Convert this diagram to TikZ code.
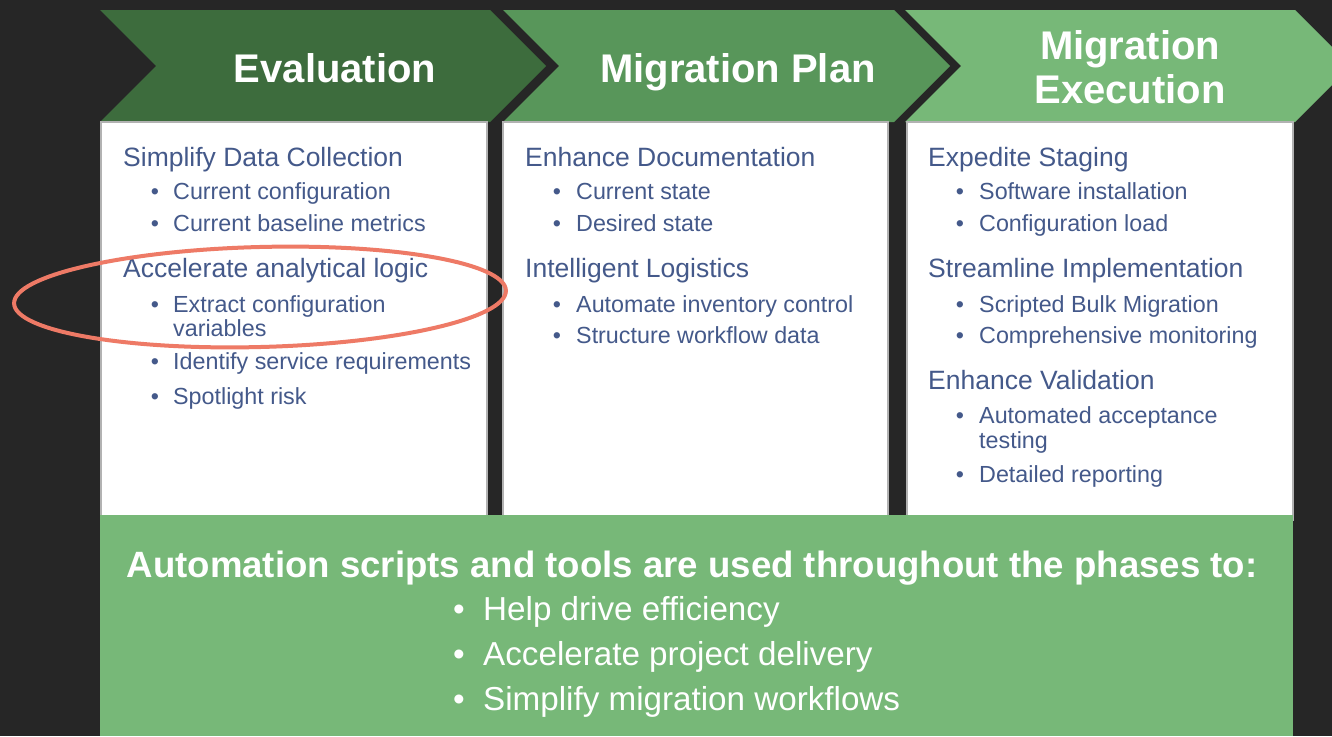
\documentclass[tikz,border=0pt]{standalone}
\usepackage{fontspec}
\setmainfont{Liberation Sans}
\definecolor{bgdark}{HTML}{262626}
\definecolor{gdark}{HTML}{3D6C3D}
\definecolor{gmid}{HTML}{58965A}
\definecolor{glight}{HTML}{77B878}
\definecolor{txtblue}{HTML}{44598A}
\definecolor{ringred}{HTML}{EE7A66}
\begin{document}
\begin{tikzpicture}[x=1pt,y=-1pt,
  phase/.style={font=\bfseries\fontsize{40}{44}\selectfont, text=white, inner sep=0, align=center},
  panel/.style={fill=white, draw=black!30, line width=1.2pt},
  head/.style={anchor=base west, inner sep=0, text=txtblue, font=\fontsize{26.5}{30}\selectfont},
  item/.style={anchor=base west, inner sep=0, text=txtblue, font=\fontsize{23.3}{26}\selectfont},
  dotmark/.style={anchor=base, inner sep=0, text=txtblue, font=\fontsize{23.3}{26}\selectfont},
  summary/.style={anchor=base, inner sep=0, text=white, font=\bfseries\fontsize{36.6}{40}\selectfont},
  sumitem/.style={anchor=base west, inner sep=0, text=white, font=\fontsize{33.2}{36}\selectfont},
  sumdot/.style={anchor=base, inner sep=0, text=white, font=\fontsize{33.2}{36}\selectfont}]
\useasboundingbox (0,0) rectangle (1332,736);
\fill[bgdark] (0,0) rectangle (1332,736);

% phase chevrons
\begin{scope}
\clip (0,0) rectangle (1332,736);
\fill[gdark]  (100,10) -- (490,10) -- (546,66) -- (490,122) -- (100,122) -- (156,66) -- cycle;
\fill[gmid]   (503,10) -- (894,10) -- (950,66) -- (894,122) -- (503,122) -- (559,66) -- cycle;
\fill[glight] (905,10) -- (1295,10) -- (1351,66) -- (1295,122) -- (905,122) -- (961,66) -- cycle;
\end{scope}
\node[phase, anchor=base] (ev) at (335,82) {Evaluation};
\node[phase, anchor=base] (mp) at (738,82) {Migration Plan};
\node[phase] (me) at (1130,67) {Migration\\Execution};

% white panels
\draw[panel] (101,122) rectangle (487,520);
\draw[panel] (503,122) rectangle (888,520);
\draw[panel] (907,122) rectangle (1293,520);

% column 1
\node[head] (c1h1) at (123,166) {Simplify Data Collection};
\node[dotmark] (c1d1) at (155,199) {•}; \node[item] (c1i1) at (173,199) {Current configuration};
\node[dotmark] (c1d2) at (155,231) {•}; \node[item] (c1i2) at (173,231) {Current baseline metrics};
\node[head] (c1h2) at (123,277) {Accelerate analytical logic};
\node[dotmark] (c1d3) at (155,312) {•}; \node[item] (c1i3) at (173,312) {Extract configuration};
\node[item] (c1i3b) at (173,336) {variables};
\node[dotmark] (c1d4) at (155,369) {•}; \node[item] (c1i4) at (173,369) {Identify service requirements};
\node[dotmark] (c1d5) at (155,404) {•}; \node[item] (c1i5) at (173,404) {Spotlight risk};

% column 2
\node[head] (c2h1) at (525,166) {Enhance Documentation};
\node[dotmark] (c2d1) at (557,199) {•}; \node[item] (c2i1) at (576,199) {Current state};
\node[dotmark] (c2d2) at (557,231) {•}; \node[item] (c2i2) at (576,231) {Desired state};
\node[head] (c2h2) at (525,277) {Intelligent Logistics};
\node[dotmark] (c2d3) at (557,312) {•}; \node[item] (c2i3) at (576,312) {Automate inventory control};
\node[dotmark] (c2d4) at (557,343) {•}; \node[item] (c2i4) at (576,343) {Structure workflow data};

% column 3
\node[head] (c3h1) at (928,166) {Expedite Staging};
\node[dotmark] (c3d1) at (960,199) {•}; \node[item] (c3i1) at (979,199) {Software installation};
\node[dotmark] (c3d2) at (960,231) {•}; \node[item] (c3i2) at (979,231) {Configuration load};
\node[head] (c3h2) at (928,277) {Streamline Implementation};
\node[dotmark] (c3d3) at (960,312) {•}; \node[item] (c3i3) at (979,312) {Scripted Bulk Migration};
\node[dotmark] (c3d4) at (960,343) {•}; \node[item] (c3i4) at (979,343) {Comprehensive monitoring};
\node[head] (c3h3) at (928,389) {Enhance Validation};
\node[dotmark] (c3d5) at (960,423) {•}; \node[item] (c3i5) at (979,423) {Automated acceptance};
\node[item] (c3i5b) at (979,448) {testing};
\node[dotmark] (c3d6) at (960,482) {•}; \node[item] (c3i6) at (979,482) {Detailed reporting};

% highlight ring
\draw[ringred, line width=4pt] (260,297) ellipse [x radius=246, y radius=50, rotate=1.5];

% automation summary band
\fill[glight] (100,515) rectangle (1293,736);
\node[summary] (sum) at (692,577) {Automation scripts and tools are used throughout the phases to:};
\node[sumdot] (sd1) at (459,620) {•}; \node[sumitem] (si1) at (483,620) {Help drive efficiency};
\node[sumdot] (sd2) at (459,665) {•}; \node[sumitem] (si2) at (483,665) {Accelerate project delivery};
\node[sumdot] (sd3) at (459,710) {•}; \node[sumitem] (si3) at (483,710) {Simplify migration workflows};
\end{tikzpicture}
\end{document}
